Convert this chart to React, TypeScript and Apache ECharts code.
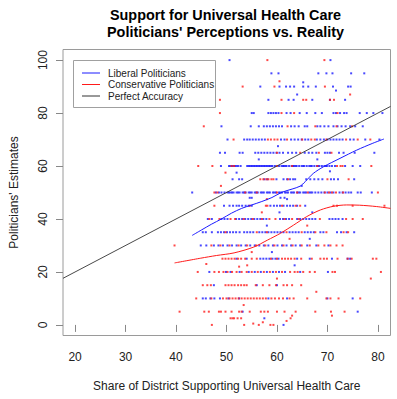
import React, { useEffect, useRef } from "react";
import * as echarts from "echarts";

const xTicks = [20, 30, 40, 50, 60, 70, 80];
const yTicks = [0, 20, 40, 60, 80, 100];
const seriesNames = ["Liberal Politicians", "Conservative Politicians", "Perfect Accuracy"];
const titleLines = ["Support for Universal Health Care", "Politicians' Perceptions vs. Reality"];
const xTitle = "Share of District Supporting Universal Health Care";
const yTitle = "Politicians' Estimates";

// estimates (y level) -> district support (x values)
const liberalRows: [number, number[]][] = [
  [100, [50.6, 70.6]],
  [95, [58.9, 60.3, 68.2, 69.8, 71.0, 74.7, 77.3]],
  [90, [56.7, 60.5, 61.8, 62.6, 63.4, 65.2, 66.2, 67.7, 71.1, 74.1, 74.6]],
  [85, [58.3, 62.3, 63.3, 67.0, 70.5, 73.5]],
  [80, [55.0, 55.4, 58.3, 58.8, 59.3, 59.8, 60.3, 61.9, 62.7, 64.5, 65.9, 67.6, 68.9, 71.2, 71.7, 72.5, 73.3, 73.8, 76.4, 77.8, 79.1, 80.9]],
  [75, [49.0, 54.8, 56.4, 57.4, 58.0, 58.6, 59.2, 59.8, 60.4, 61.0, 62.8, 63.5, 64.3, 65.5, 66.0, 68.0, 68.6, 69.4, 70.2, 71.2, 72.0, 72.8, 73.6, 74.5, 75.5, 77.0]],
  [70, [50.2, 53.5, 54.1, 54.6, 55.2, 55.8, 56.4, 57.0, 57.6, 60.8, 61.5, 62.8, 63.5, 64.2, 64.9, 65.6, 66.2, 67.9, 68.6, 69.3, 70.0, 70.6, 71.2, 71.8, 72.4, 73.0, 74.5, 75.2, 77.5, 80.3]],
  [65, [48.7, 49.7, 52.6, 53.2, 55.7, 56.3, 56.9, 57.5, 58.1, 58.7, 59.3, 59.9, 60.5, 61.2, 62.2, 63.0, 63.8, 65.5, 66.3, 67.0, 67.8, 69.5, 70.0, 70.5, 72.3, 73.2, 75.4, 79.3]],
  [60, [48.9, 50.5, 50.8, 51.1, 51.4, 51.7, 52.0, 52.3, 52.8, 54.1, 54.4, 54.6, 54.9, 55.1, 55.4, 55.6, 55.9, 56.1, 56.4, 56.6, 56.9, 57.1, 57.4, 57.6, 57.9, 58.1, 58.4, 58.6, 58.9, 59.1, 59.6, 60.4, 60.9, 61.2, 61.4, 61.7, 61.9, 62.4, 62.9, 63.2, 63.4, 63.7, 63.9, 64.4, 64.9, 65.2, 65.4, 65.9, 66.4, 66.7, 66.9, 67.4, 67.9, 68.2, 68.4, 68.9, 69.4, 69.7, 69.9, 70.4, 70.9, 71.5, 73.5, 75.0, 76.5]],
  [55, [51.2, 52.5, 53.1, 57.5, 58.1, 59.9, 61.3, 62.0, 62.6, 63.2, 63.6, 65.8, 66.6, 67.4, 68.2, 69.0, 70.7, 71.3, 72.1, 75.3]],
  [50, [43.2, 47.9, 48.5, 49.0, 49.6, 50.2, 50.5, 50.8, 51.1, 51.4, 52.0, 52.3, 52.6, 53.2, 53.5, 53.8, 54.4, 54.7, 55.0, 55.6, 55.9, 56.2, 56.8, 57.1, 57.4, 58.0, 58.3, 58.6, 59.2, 59.5, 59.8, 60.4, 60.7, 61.0, 61.6, 61.9, 62.2, 62.8, 63.1, 63.4, 64.0, 64.3, 64.6, 65.2, 65.5, 65.8, 66.4, 66.7, 67.0, 67.6, 68.2, 68.8, 69.4, 70.0, 70.6, 71.2, 72.4, 73.0, 73.6, 74.2, 74.7, 76.0, 76.6, 78.8]],
  [45, [49.5, 50.6, 51.3, 52.0, 52.5, 53.1, 53.8, 54.4, 55.0, 58.7, 59.4, 60.0, 60.6, 61.3, 62.0, 62.6, 63.2, 64.0, 65.6]],
  [40, [46.3, 47.1, 49.0, 49.6, 50.2, 51.9, 52.5, 53.1, 53.7, 54.3, 54.9, 55.5, 56.1, 56.7, 57.3, 57.9, 60.6, 61.2, 61.8, 62.4, 64.0, 64.6, 65.2, 65.8, 66.4, 67.0, 67.6, 70.4, 71.0, 71.6, 72.2, 73.0]],
  [35, [45.3, 45.9, 47.1, 48.3, 48.9, 49.5, 50.1, 50.7, 51.3, 51.9, 52.6, 53.5, 54.1, 54.7, 55.3, 56.5, 57.1, 57.7, 58.3, 58.9, 59.5, 60.1, 60.7, 61.3, 62.5, 63.1, 63.7, 64.3, 65.5, 66.1, 66.7, 67.3, 68.6, 69.2, 71.9, 72.7, 73.8, 75.3]],
  [30, [44.9, 46.0, 47.5, 48.4, 49.3, 50.2, 51.1, 52.0, 52.9, 53.8, 54.7, 55.6, 56.5, 57.4, 58.3, 59.2, 60.1, 61.0, 61.9, 62.8, 63.7, 64.6, 66.0, 67.8, 70.2]],
  [25, [52.0, 54.0, 56.7, 57.3, 57.9, 58.5, 59.1, 59.7, 60.3, 64.0, 66.5, 70.9, 74.0, 74.5]],
  [20, [46.6, 49.9, 50.8, 52.6, 54.4, 55.6, 56.8, 58.0, 59.2, 60.4, 61.6, 64.6, 70.1]],
  [15, [47.5, 56.0, 60.0]],
  [10, [45.3, 45.9, 46.8, 47.6, 48.7, 50.4, 52.5, 58.3, 62.0, 70.0, 75.0]],
  [5, [53.2, 76.0]],
  [0, [61.3]],
];

const conservativeRows: [number, number[]][] = [
  [100, [58.1, 69.4]],
  [90, [53.2, 59.5, 69.5]],
  [85, [48.7, 60.9, 65.2, 65.8, 70.5, 71.3]],
  [80, [48.7, 60.9, 63.4, 72.0]],
  [75, [45.5, 62.1, 67.6, 71.8, 74.9]],
  [70, [51.4, 58.2, 58.8, 59.5, 60.1, 62.0, 65.0, 66.8, 67.5, 69.8, 73.7, 76.0, 78.5]],
  [65, [60.0, 64.6, 68.3, 70.8]],
  [60, [44.4, 47.2, 51.0, 51.5, 60.0, 63.0, 68.0, 71.9, 72.6, 73.0, 78.7]],
  [55, [56.7, 57.3, 57.9, 58.3, 58.9, 59.3, 62.2, 70.0, 74.2]],
  [50, [47.6, 48.2, 53.7, 56.0, 60.0, 64.0, 66.1, 69.5, 70.3, 70.9, 71.7, 73.1, 80.0]],
  [45, [47.6, 54.6, 57.8, 58.1, 61.0, 63.7, 64.6, 71.2, 71.9, 75.0, 81.3]],
  [40, [46.6, 48.6, 50.8, 51.7, 53.4, 55.2, 57.0, 58.5, 59.7, 61.5, 63.0, 64.3, 68.5, 73.7, 75.0, 77.0]],
  [35, [49.8, 56.0, 58.0, 61.9, 64.9, 67.6, 69.8, 73.2, 74.1]],
  [30, [39.7, 47.0, 48.8, 50.6, 52.4, 54.1, 55.9, 57.7, 59.5, 61.3, 63.1, 64.9, 66.5, 68.2, 69.4, 70.6, 71.8, 73.0]],
  [25, [49.2, 49.8, 50.4, 51.0, 51.6, 52.3, 52.9, 53.7, 55.0, 56.0, 58.8, 60.0, 61.0, 61.6, 62.2, 62.8, 63.5, 64.8, 66.9, 68.6, 69.3, 69.9, 72.0, 74.0, 74.8, 79.0, 79.7]],
  [20, [44.3, 47.6, 48.5, 49.4, 50.2, 51.1, 52.0, 53.0, 54.0, 55.0, 56.2, 57.4, 58.6, 59.8, 61.0, 62.6, 63.5, 64.1, 65.2, 66.5, 67.5, 71.0, 71.5, 80.6]],
  [15, [45.3, 46.2, 46.9, 49.8, 50.4, 51.0, 51.6, 52.3, 52.9, 53.5, 54.0, 55.8, 57.2, 58.5, 59.8, 61.3, 62.0, 63.0, 64.8]],
  [10, [44.0, 47.0, 49.3, 50.0, 50.6, 51.2, 51.8, 52.4, 53.0, 53.6, 54.2, 54.8, 55.4, 56.0, 56.6, 57.2, 57.8, 58.9, 59.6, 60.4, 61.2, 62.5, 63.3, 66.0, 69.8, 70.6, 72.2, 76.5]],
  [5, [40.7, 45.6, 46.5, 48.5, 48.9, 49.8, 51.0, 52.5, 53.0, 54.6, 56.8, 57.5, 58.2, 60.0, 61.5, 63.7, 67.6, 70.7, 73.4]],
  [0, [47.1, 53.5, 56.4, 58.7, 59.3]],
];

const liberalOffGrid: [number, number][] = [
  [57.5, 2.5], [52.0, 57.5], [56.4, 62.5], [60.2, 67.5], [64.9, 52.5], [62.0, 47.5], [67.0, 42.5],
  [58.0, 37.5], [65.2, 91.6], [71.7, 88.5], [54.6, 48], [55.0, 48], [60.7, 48], [61.5, 48],
  [64.0, 87], [70.5, 58], [68.0, 62.5], [60.5, 42.5], [66.5, 32.5], [59.0, 27.5], [63.5, 22.5],
];

const conservativeOffGrid: [number, number][] = [
  [50.8, 2.5], [51.2, 2.5], [51.5, 2.5], [52.2, 2.5], [52.9, 2.5], [55.3, 0.5], [57.2, 1],
  [61.9, 1.5], [62.7, 2.5], [63.0, 3.5], [70.9, 3.5], [78.6, 17.5], [46.0, 23], [54.1, 22.5],
  [52.5, 22], [49.8, 57.5], [48.9, 52.5], [57.0, 42.5], [62.5, 32.5], [55.0, 27.5], [60.0, 17.5],
  [67.8, 12.5], [53.4, 7.5], [60.5, 92], [58.0, 47.5], [66.0, 37.5], [74.5, 87],
];

const liberalTrend: [number, number][] = [
  [43.2, 33.8], [45, 35.8], [47, 38.0], [49, 40.0], [51, 42.2], [53, 44.0], [55, 45.3],
  [57, 46.6], [59, 48.1], [61, 50.1], [63, 51.3], [64.6, 52.4], [65.6, 54.1], [67.2, 57.2],
  [69.2, 59.7], [72.5, 62.9], [75.8, 66.0], [79.0, 68.6], [81.2, 70.2],
];

const conservativeTrend: [number, number][] = [
  [39.7, 23.4], [44.9, 25.2], [48, 26.2], [51.5, 27.2], [55.4, 29.4], [58.1, 32.0], [60.7, 34.6],
  [63.3, 37.7], [65.9, 40.9], [68.6, 43.4], [71.2, 44.8], [73.8, 45.3], [76.4, 45.2], [79.7, 44.7],
  [82.5, 44.0],
];

const accuracyLine: [number, number][] = [[17.6, 17.6], [82.5, 82.5]];

const colors = ["#1a1aff", "#ff1a1a", "#333333"];
const FONT = "'Liberation Sans', Arial, Helvetica, sans-serif";

function toPoints(rows: [number, number[]][], extra: [number, number][]) {
  const pts: [number, number][] = [];
  rows.forEach(([y, xs]) => xs.forEach((x) => pts.push([x, y])));
  return pts.concat(extra);
}

export default function App() {
  const ref = useRef<HTMLDivElement>(null);
  useEffect(() => {
    if (!ref.current) return;
    const chart = echarts.init(ref.current, null, { renderer: "svg" });
    const legendItems: any[] = [];
    const lx = 73, ly = 60;
    legendItems.push({
      type: "rect",
      shape: { x: lx + 0.5, y: ly + 0.5, width: 142, height: 47 },
      style: { fill: "#ffffff", stroke: "#a0a0a0", lineWidth: 1 },
      z: 100,
    });
    const rowsY = [73, 84.5, 96];
    seriesNames.forEach((name, i) => {
      legendItems.push({
        type: "line",
        shape: { x1: 82, y1: rowsY[i], x2: 100, y2: rowsY[i] },
        style: { stroke: colors[i], lineWidth: 1 },
        z: 101,
      });
      legendItems.push({
        type: "text",
        x: 108,
        y: rowsY[i],
        style: { text: name, fill: "#222", font: `10px ${FONT}`, verticalAlign: "middle", align: "left" },
        z: 101,
      });
    });
    const titleItems = titleLines.map((t, i) => ({
      type: "text",
      x: 225.5,
      y: 15 + i * 17,
      style: { text: t, fill: "#000", font: `bold 14.4px ${FONT}`, align: "center", verticalAlign: "middle" },
    }));

    chart.setOption({
      animation: false,
      grid: { left: 61, right: 6.5, top: 49.5, bottom: 63.5, show: true, borderColor: "#9a9a9a", borderWidth: 1 },
      xAxis: {
        type: "value",
        min: 17.6,
        max: 82.5,
        name: xTitle,
        nameLocation: "middle",
        nameGap: 44,
        nameTextStyle: { fontSize: 12, color: "#222", fontFamily: FONT },
        axisLine: { show: false },
        axisTick: { show: true, length: 7, customValues: xTicks, lineStyle: { color: "#888" } },
        axisLabel: { customValues: xTicks, margin: 15, fontSize: 12, color: "#222", fontFamily: FONT },
        splitLine: { show: false },
      },
      yAxis: {
        type: "value",
        min: -4,
        max: 104,
        name: yTitle,
        nameLocation: "middle",
        nameGap: 43,
        nameRotate: 90,
        nameTextStyle: { fontSize: 12, color: "#222", fontFamily: FONT },
        axisLine: { show: false },
        axisTick: { show: true, length: 7, customValues: yTicks, lineStyle: { color: "#888" } },
        axisLabel: { customValues: yTicks, margin: 14, rotate: 90, fontSize: 12, color: "#222", fontFamily: FONT },
        splitLine: { show: false },
      },
      graphic: [...titleItems, ...legendItems],
      series: [
        {
          name: seriesNames[0] + " points",
          type: "scatter",
          data: toPoints(liberalRows, liberalOffGrid),
          symbol: "rect",
          symbolSize: 2,
          itemStyle: { color: colors[0] },
          silent: true,
          z: 2,
        },
        {
          name: seriesNames[1] + " points",
          type: "scatter",
          data: toPoints(conservativeRows, conservativeOffGrid),
          symbol: "rect",
          symbolSize: 2,
          itemStyle: { color: colors[1] },
          silent: true,
          z: 3,
        },
        {
          name: seriesNames[0],
          type: "line",
          data: liberalTrend,
          smooth: 0.3,
          symbol: "none",
          lineStyle: { color: colors[0], width: 1 },
          silent: true,
          z: 4,
        },
        {
          name: seriesNames[1],
          type: "line",
          data: conservativeTrend,
          smooth: 0.3,
          symbol: "none",
          lineStyle: { color: colors[1], width: 1 },
          silent: true,
          z: 4,
        },
        {
          name: seriesNames[2],
          type: "line",
          data: accuracyLine,
          symbol: "none",
          lineStyle: { color: colors[2], width: 0.9 },
          silent: true,
          z: 4,
        },
      ],
    });
    return () => chart.dispose();
  }, []);
  return <div ref={ref} style={{ width: 397, height: 399, position: "absolute", left: 0, top: 0 }} />;
}
